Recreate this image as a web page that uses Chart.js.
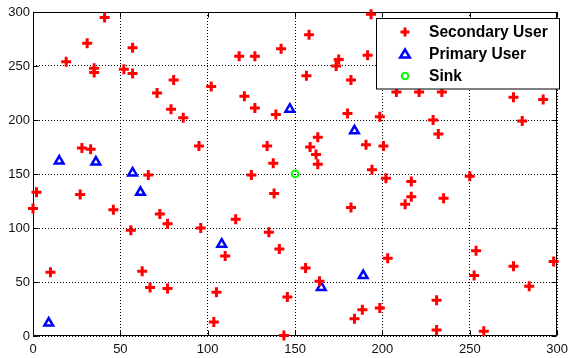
<!DOCTYPE html>
<html>
<head>
<meta charset="utf-8">
<script src="https://cdn.jsdelivr.net/npm/chart.js@4/dist/chart.umd.min.js"></script>
<style>
    html, body { margin: 0; padding: 0; background: #fff; }
    #wrap { width: 574px; height: 358px; }
</style>
</head>
<body>
<div id="wrap"><canvas id="chart" width="574" height="358"></canvas></div>
<script>
// node positions
const secondaryX = [2, 0, 10, 19, 31, 35, 35, 41, 28, 33, 27, 46, 52, 57, 57, 56, 62.5, 66, 67, 71,
    72.6, 77, 77, 79, 80.5, 86, 95, 96, 102, 103.5, 105, 110, 116, 118, 121, 125, 127, 127, 134, 135,
    137.5, 138, 139, 141, 142, 143.6, 145.6, 156, 156.5, 158, 158.6, 162, 163, 163, 164, 173.5, 175, 180, 182, 182,
    184, 188.5, 190.6, 191.5, 193.5, 194, 198.5, 198.5, 200.6, 202, 203, 208, 213, 216.5, 216.5, 221, 229, 231, 231, 232,
    234, 235, 250, 252.5, 253.6, 258, 275, 275, 280, 284, 292, 298];
const secondaryY = [133, 118, 59, 254, 271, 248, 244, 295, 174, 173, 131, 117, 247, 267, 243, 98, 60, 149, 45, 225,
    113, 104, 44, 210, 237, 202, 176, 100, 231, 13, 40.5, 74, 108, 259, 222, 149, 259, 211, 176, 96,
    160, 132, 205, 80.5, 266, 0.5, 36, 63, 241, 279, 175, 168, 184, 159, 50.6, 250, 256, 206, 237, 119,
    16, 24.4, 177, 260, 298, 154, 203, 26, 176, 146, 72, 226, 122, 143, 129, 226, 200, 33, 5.6, 187,
    226, 127.5, 148, 56, 79, 4.4, 221, 64.5, 199, 46, 219, 69];

const primaryX = [15, 36, 57, 61.5, 9, 108, 147, 165, 184, 189];
const primaryY = [162, 161, 151, 133, 12, 85, 210, 45, 190, 56];

const sinkX = [150];
const sinkY = [150];

const ticks = [0, 50, 100, 150, 200, 250, 300];
const seriesNames = ['Secondary User', 'Primary User', 'Sink'];

const pts = (xs, ys) => xs.map((x, i) => ({ x: x, y: ys[i] }));
const FONT = 'Arial, "Liberation Sans", sans-serif';

// MATLAB-like box, inward ticks and legend
const boxPlugin = {
    id: 'box',
    beforeDatasetsDraw(chart) {
        const { ctx, chartArea: a, scales } = chart;
        const l = Math.round(a.left) + 0.5, r = Math.round(a.right) - 0.5;
        const t = Math.round(a.top) + 0.5, b = Math.round(a.bottom) - 0.5;
        ctx.save();
        ctx.strokeStyle = '#000';
        ctx.lineWidth = 1;
        ctx.beginPath();
        ctx.rect(l, t, r - l, b - t);
        ctx.stroke();
        ctx.beginPath();
        ticks.forEach(v => {
            const px = Math.round(scales.x.getPixelForValue(v)) + 0.5;
            const py = Math.round(scales.y.getPixelForValue(v)) + 0.5;
            ctx.moveTo(px, b); ctx.lineTo(px, b - 5);
            ctx.moveTo(px, t); ctx.lineTo(px, t + 5);
            ctx.moveTo(l, py); ctx.lineTo(l + 5, py);
            ctx.moveTo(r, py); ctx.lineTo(r - 5, py);
        });
        ctx.stroke();
        ctx.restore();
    },
    afterDraw(chart) {
        const ctx = chart.ctx;
        const bx = 376.5, by = 18.5, bw = 183, bh = 70.5;
        ctx.save();
        ctx.fillStyle = '#fff';
        ctx.fillRect(bx, by, bw, bh);
        ctx.strokeStyle = '#000';
        ctx.lineWidth = 1;
        ctx.strokeRect(bx, by, bw, bh);

        const mx = 405;
        const rows = [32, 54, 76];
        // cross
        ctx.strokeStyle = '#ff0000';
        ctx.lineWidth = 3;
        ctx.beginPath();
        ctx.moveTo(mx - 4.5, rows[0]); ctx.lineTo(mx + 4.5, rows[0]);
        ctx.moveTo(mx, rows[0] - 4.5); ctx.lineTo(mx, rows[0] + 4.5);
        ctx.stroke();
        // triangle
        ctx.strokeStyle = '#0000ff';
        ctx.lineWidth = 2.5;
        ctx.beginPath();
        ctx.moveTo(mx, rows[1] - 4.5);
        ctx.lineTo(mx + 4.8, rows[1] + 3.5);
        ctx.lineTo(mx - 4.8, rows[1] + 3.5);
        ctx.closePath();
        ctx.stroke();
        // circle
        ctx.strokeStyle = '#00ff00';
        ctx.lineWidth = 2;
        ctx.beginPath();
        ctx.arc(mx, rows[2], 3.3, 0, Math.PI * 2);
        ctx.stroke();

        ctx.fillStyle = '#000';
        ctx.font = 'bold 15.6px ' + FONT;
        ctx.textBaseline = 'middle';
        ctx.textAlign = 'left';
        seriesNames.forEach((name, i) => ctx.fillText(name, 429, rows[i] + 1));
        ctx.restore();
    }
};

const axis = (pos) => ({
    type: 'linear',
    position: pos,
    min: 0,
    max: 300,
    afterBuildTicks: s => { s.ticks = ticks.map(v => ({ value: v })); },
    afterFit: s => {
        if (pos === 'left') s.width = 33; else s.height = 22;
    },
    grid: {
        color: '#000',
        lineWidth: 1,
        drawTicks: false
    },
    border: { display: false, dash: [1, 2] },
    ticks: {
        color: '#111',
        padding: pos === 'left' ? 3 : 6,
        font: { family: FONT, size: 13 },
        maxRotation: 0,
        autoSkip: false
    }
});

new Chart(document.getElementById('chart').getContext('2d'), {
    type: 'scatter',
    data: {
        datasets: [{
            label: seriesNames[0],
            data: pts(secondaryX, secondaryY),
            pointStyle: 'cross',
            radius: 5,
            borderWidth: 3,
            borderColor: '#ff0000',
            backgroundColor: '#ff0000',
            clip: false
        }, {
            label: seriesNames[1],
            data: pts(primaryX, primaryY),
            pointStyle: 'triangle',
            radius: 5,
            borderWidth: 2.5,
            borderColor: '#0000ff',
            backgroundColor: 'rgba(0,0,0,0)',
            clip: false
        }, {
            label: seriesNames[2],
            data: pts(sinkX, sinkY),
            pointStyle: 'circle',
            radius: 3.4,
            borderWidth: 2,
            borderColor: '#00ff00',
            backgroundColor: 'rgba(0,0,0,0)',
            clip: false
        }]
    },
    options: {
        responsive: false,
        animation: false,
        events: [],
        layout: { padding: { top: 12, right: 9, left: 0, bottom: 0 } },
        plugins: {
            legend: { display: false },
            tooltip: { enabled: false }
        },
        scales: {
            x: axis('bottom'),
            y: axis('left')
        }
    },
    plugins: [boxPlugin]
});
</script>
</body>
</html>
